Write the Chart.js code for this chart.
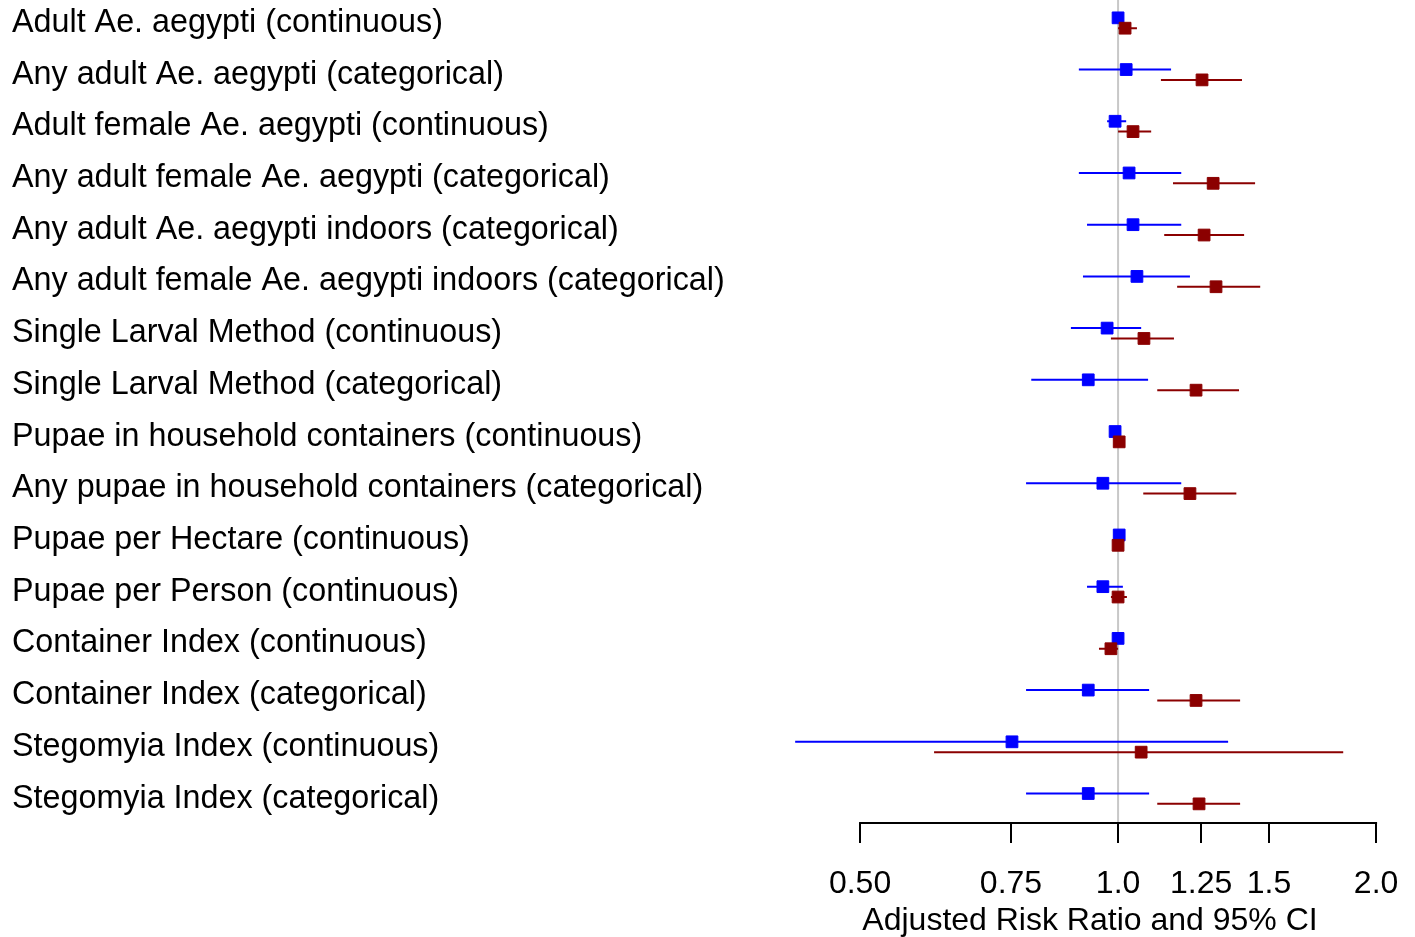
<!DOCTYPE html>
<html>
<head>
<meta charset="utf-8">
<script src="https://cdn.jsdelivr.net/npm/chart.js@4/dist/chart.umd.min.js"></script>
<style>
  body { margin: 0; background: #fff; }
  #wrap { width: 1415px; height: 937px; }
</style>
</head>
<body>
<div id="wrap"><canvas id="myChart"></canvas></div>
<script>
// row labels, top to bottom
var rowLabels = [
  'Adult Ae. aegypti (continuous)',
  'Any adult Ae. aegypti (categorical)',
  'Adult female Ae. aegypti (continuous)',
  'Any adult female Ae. aegypti (categorical)',
  'Any adult Ae. aegypti indoors (categorical)',
  'Any adult female Ae. aegypti indoors (categorical)',
  'Single Larval Method (continuous)',
  'Single Larval Method (categorical)',
  'Pupae in household containers (continuous)',
  'Any pupae in household containers (categorical)',
  'Pupae per Hectare (continuous)',
  'Pupae per Person (continuous)',
  'Container Index (continuous)',
  'Container Index (categorical)',
  'Stegomyia Index (continuous)',
  'Stegomyia Index (categorical)'
]
// blue series: risk ratio and 95% CI
var blueRR = [1.0, 1.022, 0.992, 1.030, 1.041, 1.052, 0.971, 0.923, 0.992, 0.960, 1.003, 0.960, 1.0, 0.923, 0.752, 0.923]
var blueLo = [0.995, 0.900, 0.971, 0.900, 0.920, 0.910, 0.881, 0.792, 0.985, 0.781, 0.998, 0.920, 0.995, 0.781, 0.420, 0.781]
var blueHi = [1.005, 1.153, 1.022, 1.185, 1.185, 1.213, 1.064, 1.084, 1.000, 1.185, 1.008, 1.013, 1.005, 1.087, 1.344, 1.087]
// red series: risk ratio and 95% CI
var redRR = [1.019, 1.253, 1.041, 1.291, 1.260, 1.301, 1.072, 1.233, 1.003, 1.213, 1.0, 1.0, 0.981, 1.233, 1.064, 1.243]
var redLo = [1.0, 1.122, 1.0, 1.159, 1.132, 1.172, 0.981, 1.111, 0.998, 1.070, 0.995, 0.981, 0.950, 1.111, 0.610, 1.111]
var redHi = [1.052, 1.395, 1.093, 1.445, 1.403, 1.465, 1.162, 1.384, 1.008, 1.374, 1.005, 1.024, 1.0, 1.388, 1.831, 1.388]
// x axis ticks
var xTicks = [0.5, 0.75, 1.0, 1.25, 1.5, 2.0]
var xTickLabels = ['0.50', '0.75', '1.0', '1.25', '1.5', '2.0']

var FONT = "'Liberation Sans', Arial, sans-serif"
var yMin = -0.445
var yMax = 15.47
var shift = 0.1

function points (vals, dy) {
  return vals.map(function (v, i) { return { x: v, y: i + dy } })
}
function whiskers (lo, hi, dy) {
  var out = []
  for (var i = 0; i < lo.length; i++) {
    out.push({ x: lo[i], y: i + dy }, { x: hi[i], y: i + dy }, { x: null, y: null })
  }
  return out
}

// axis line only between first and last tick
var axisLine = {
  id: 'axisLine',
  afterDraw: function (chart) {
    var x = chart.scales.x
    var c = chart.ctx
    c.save()
    c.strokeStyle = '#000'
    c.lineWidth = 2
    c.beginPath()
    c.moveTo(x.getPixelForValue(xTicks[0]) - 1, chart.chartArea.bottom)
    c.lineTo(x.getPixelForValue(xTicks[xTicks.length - 1]) + 1, chart.chartArea.bottom)
    c.stroke()
    c.restore()
  }
}

var ctx = document.getElementById('myChart')
/* eslint-disable no-unused-vars, no-undef */
var myChart = new Chart(ctx, {
  type: 'scatter',
  data: {
    datasets: [
      { data: points(redRR, shift), pointStyle: 'rect', pointRadius: 8.3, borderWidth: 1,
        backgroundColor: '#8B0000', borderColor: '#8B0000' },
      { data: points(blueRR, -shift), pointStyle: 'rect', pointRadius: 8.3, borderWidth: 1,
        backgroundColor: '#0000FF', borderColor: '#0000FF' },
      { data: whiskers(redLo, redHi, shift), showLine: true, pointRadius: 0,
        borderColor: '#8B0000', borderWidth: 2 },
      { data: whiskers(blueLo, blueHi, -shift), showLine: true, pointRadius: 0,
        borderColor: '#0000FF', borderWidth: 2 },
      { data: [{ x: 1, y: yMin }, { x: 1, y: yMax }], showLine: true, pointRadius: 0,
        borderColor: '#C8C8C8', borderWidth: 2 }
    ]
  },
  options: {
    responsive: true,
    maintainAspectRatio: false,
    animation: false,
    layout: { autoPadding: false, padding: { left: 12, right: 12, top: 0, bottom: 0 } },
    plugins: { legend: { display: false }, tooltip: { enabled: false } },
    scales: {
      x: {
        type: 'logarithmic',
        min: 0.4,
        max: 2.15,
        afterBuildTicks: function (s) { s.ticks = xTicks.map(function (v) { return { value: v } }) },
        afterFit: function (s) { s.height = 114; s.paddingLeft = 0; s.paddingRight = 0 },
        ticks: {
          autoSkip: false,
          maxRotation: 0,
          padding: 22,
          color: '#000',
          font: { family: FONT, size: 32 },
          callback: function (v, i) { return xTickLabels[i] }
        },
        grid: { drawOnChartArea: false, drawTicks: true, tickLength: 20, color: '#000', lineWidth: 2 },
        border: { display: false },
        title: {
          display: true,
          text: 'Adjusted Risk Ratio and 95% CI',
          color: '#000',
          font: { family: FONT, size: 32, lineHeight: 1.0 },
          padding: { top: 0, bottom: 0 }
        }
      },
      y: {
        type: 'linear',
        reverse: true,
        min: yMin,
        max: yMax,
        afterBuildTicks: function (s) { s.ticks = rowLabels.map(function (l, i) { return { value: i } }) },
        afterFit: function (s) { s.width = 765; s.paddingTop = 0; s.paddingBottom = 0 },
        ticks: {
          autoSkip: false,
          crossAlign: 'far',
          padding: 0,
          color: '#000',
          font: { family: FONT, size: 32.3 },
          callback: function (v, i) { return rowLabels[i] }
        },
        grid: { display: false },
        border: { display: false }
      }
    }
  },
  plugins: [axisLine]
})
</script>
</body>
</html>
